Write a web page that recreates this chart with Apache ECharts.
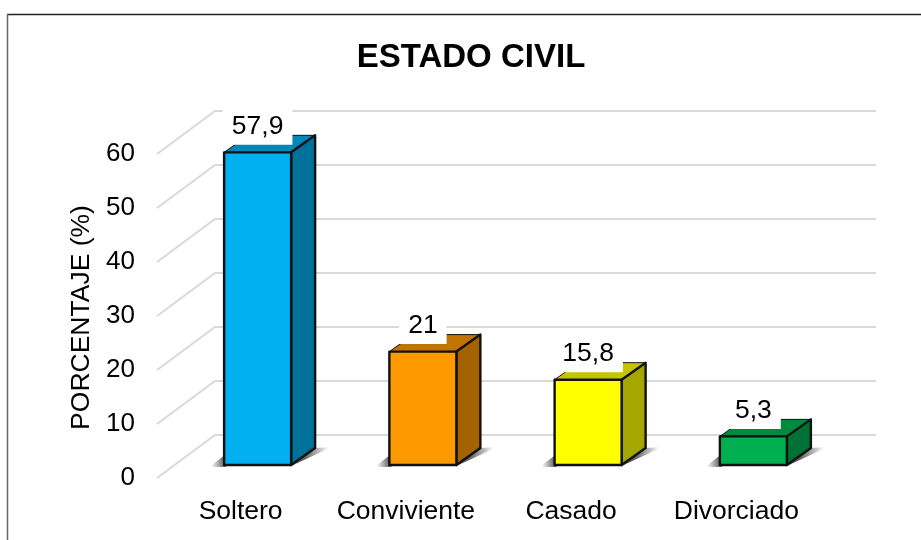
<!DOCTYPE html>
<html>
<head>
<meta charset="utf-8">
<title>Estado civil</title>
<style>
  html, body { margin: 0; padding: 0; background: #fff; }
  #chart { width: 921px; height: 540px; }
</style>
<script src="https://cdn.jsdelivr.net/npm/echarts@6/dist/echarts.min.js"></script>
</head>
<body>
<div id="chart"></div>
<script>
var categories = ['Soltero', 'Conviviente', 'Casado', 'Divorciado']
var values = [57.9, 21, 15.8, 5.3]
var valueLabels = ['57,9', '21', '15,8', '5,3']
var tickValues = [0, 10, 20, 30, 40, 50, 60]

// front, side, top
var palette = [
  ['#00B0F0', '#00719B', '#0086B8'],
  ['#FF9900', '#A46200', '#C27400'],
  ['#FFFF00', '#A6A600', '#C4C400'],
  ['#00B050', '#007134', '#008A3D']
]

var fontName = '"Liberation Sans", Arial, sans-serif'

// oblique projection of the floor, px
var wallX = 58
var wallY = -43
var barDepthX = 24
var barDepthY = -17
var barInsetX = 18
var barInsetY = -13
var barWidth = 67

function renderWall(params, api) {
  var p = api.coord([0, api.value(0)])
  var rect = params.coordSys
  var front = [rect.x, p[1]]
  var back = [rect.x + wallX, p[1] + wallY]
  var end = [rect.x + rect.width + wallX, p[1] + wallY]
  return {
    type: 'polyline',
    shape: { points: [front, back, end] },
    style: { stroke: '#D9D9D9', lineWidth: 2, fill: null }
  }
}

function barBox(api) {
  var i = api.value(0)
  var base = api.coord([i, 0])
  var top = api.coord([i, api.value(1)])
  var x0 = base[0] + barInsetX - barWidth / 2
  var x1 = x0 + barWidth
  return { i: i, x0: x0, x1: x1, y0: base[1] + barInsetY, y1: top[1] + barInsetY }
}

function shadowFill(x, y, x2, y2) {
  return new echarts.graphic.LinearGradient(x, y, x2, y2, [
    { offset: 0, color: 'rgba(70,70,70,0.85)' },
    { offset: 1, color: 'rgba(70,70,70,0)' }
  ])
}

function renderBar(params, api) {
  var b = barBox(api)
  var c = palette[b.i]
  var dx = barDepthX
  var dy = barDepthY
  var edge = { stroke: '#111', lineWidth: 2.4, lineJoin: 'round' }
  return {
    type: 'group',
    children: [
      {
        // floor shadow, left of the bar
        type: 'polygon',
        shape: { points: [[b.x0 - 15, b.y0 + 2], [b.x0 + 2, b.y0 + 2], [b.x0 + 2, b.y0 - 11]] },
        style: { fill: shadowFill(0.9, 0.6, 0.1, 0.7) }
      },
      {
        // floor shadow, right of the bar
        type: 'polygon',
        shape: { points: [[b.x1, b.y0 + 1], [b.x1 + dx - 1, b.y0 + dy], [b.x1 + dx + 17, b.y0 + dy - 1]] },
        style: { fill: shadowFill(0.35, 0.35, 0.85, 0.6) }
      },
      {
        type: 'polygon',
        shape: { points: [[b.x0, b.y1], [b.x0 + dx, b.y1 + dy], [b.x1 + dx, b.y1 + dy], [b.x1, b.y1]] },
        style: Object.assign({ fill: c[2] }, edge, { lineWidth: 1 })
      },
      {
        type: 'polygon',
        shape: { points: [[b.x1, b.y1], [b.x1 + dx, b.y1 + dy], [b.x1 + dx, b.y0 + dy], [b.x1, b.y0]] },
        style: Object.assign({ fill: c[1] }, edge)
      },
      {
        type: 'rect',
        shape: { x: b.x0, y: b.y1, width: b.x1 - b.x0, height: b.y0 - b.y1 },
        style: Object.assign({ fill: c[0] }, edge)
      }
    ]
  }
}

function renderLabel(params, api) {
  var b = barBox(api)
  return {
    type: 'text',
    x: (b.x0 + b.x1) / 2,
    y: b.y1 - 26,
    style: {
      text: valueLabels[b.i],
      font: '26.5px ' + fontName,
      fill: '#000',
      align: 'center',
      verticalAlign: 'middle',
      backgroundColor: '#fff',
      padding: [5, 9, 5, 9]
    }
  }
}

var chart = echarts.init(document.getElementById('chart'), null, { renderer: 'canvas' })

chart.setOption({
  animation: false,
  backgroundColor: '#fff',
  title: {
    text: 'ESTADO CIVIL',
    left: 466,
    top: 36,
    textAlign: 'center',
    textStyle: { fontFamily: fontName, fontSize: 33, fontWeight: 'bold', color: '#000' }
  },
  graphic: [
    { type: 'line', shape: { x1: 7, y1: 14.5, x2: 921, y2: 14.5 }, style: { stroke: '#222', lineWidth: 1.5 } },
    { type: 'line', shape: { x1: 7.5, y1: 14, x2: 7.5, y2: 540 }, style: { stroke: '#666', lineWidth: 1.5 } }
  ],
  grid: { left: 157, top: 154, width: 661, height: 324 },
  xAxis: {
    type: 'category',
    data: categories,
    axisLine: { show: false },
    axisTick: { show: false },
    axisLabel: { interval: 0, hideOverlap: false, margin: 20, padding: [0, 0, 0, 2], fontFamily: fontName, fontSize: 26.5, color: '#000' }
  },
  yAxis: {
    type: 'value',
    min: 0,
    max: 60,
    interval: 10,
    name: 'PORCENTAJE (%)',
    nameLocation: 'middle',
    nameGap: 62,
    nameTextStyle: { fontFamily: fontName, fontSize: 26.5, color: '#000', padding: [0, 3, 0, 0] },
    axisLine: { show: false },
    axisTick: { show: false },
    splitLine: { show: false },
    axisLabel: { margin: 22, padding: [2, 0, 0, 0], fontFamily: fontName, fontSize: 26, color: '#000' }
  },
  series: [
    {
      type: 'custom',
      renderItem: renderWall,
      data: tickValues.map(function (v) { return [v] }),
      encode: { y: 0 },
      clip: false,
      silent: true,
      z: 1
    },
    {
      type: 'custom',
      renderItem: renderBar,
      data: values.map(function (v, i) { return [i, v] }),
      encode: { x: 0, y: 1 },
      clip: false,
      z: 2
    },
    {
      type: 'custom',
      renderItem: renderLabel,
      data: values.map(function (v, i) { return [i, v] }),
      encode: { x: 0, y: 1 },
      clip: false,
      z: 3
    }
  ]
})
</script>
</body>
</html>
